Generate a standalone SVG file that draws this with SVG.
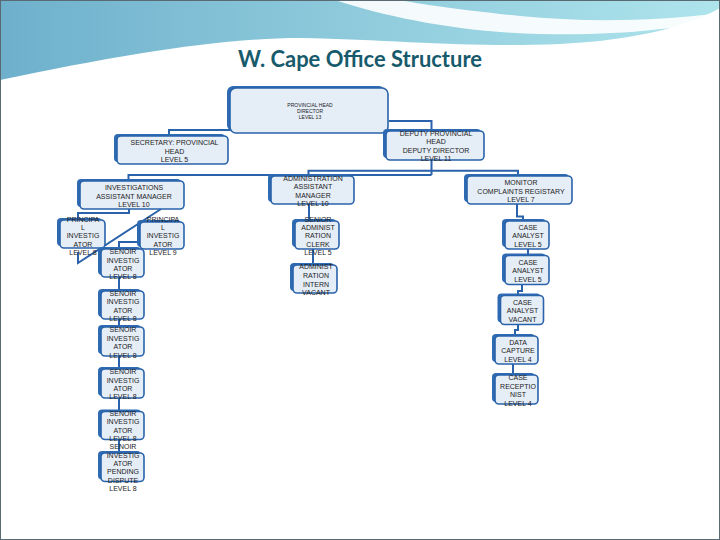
<svg xmlns="http://www.w3.org/2000/svg" width="720" height="540" viewBox="0 0 720 540">
<defs>
<linearGradient id="hdr" x1="0" y1="0" x2="1" y2="0">
<stop offset="0" stop-color="#6eb0cc"/>
<stop offset="0.5" stop-color="#8fcbdc"/>
<stop offset="1" stop-color="#aee4ec"/>
</linearGradient>
<style>
.sh{fill:#2e6bb3}
.bx{fill:#e5edf7;stroke:#2a63ab;stroke-width:1.6}
.t{font-family:"Liberation Sans",Arial,sans-serif;font-size:7px;fill:#1c1c1c;text-anchor:middle}
.ts{font-family:"Liberation Sans",Arial,sans-serif;font-size:5px;fill:#1c1c1c;text-anchor:middle}
.c{fill:none;stroke:#2a63ab;stroke-width:2}
</style>
</defs>
<rect x="0" y="0" width="720" height="540" fill="#ffffff"/>
<g id="header">
<path d="M0,0 H720 V8 C690,25 640,40 560,44 C470,48 400,40 300,38 C220,38 120,55 0,80 Z" fill="url(#hdr)"/>
<path d="M335,0 C390,18 460,32 540,34 C620,36 680,28 720,20 L720,13 C650,22 580,22 520,16 C460,10 420,4 400,0 Z" fill="#ffffff" opacity="0.9"/>
<path d="M0,95 C80,70 180,50 300,45" fill="none" stroke="#ffffff" stroke-width="1.5" opacity="0.7"/>
</g>
<rect x="0.5" y="0.5" width="719" height="539" fill="none" stroke="#5a6a72" stroke-width="1"/>
<text x="360" y="66.5" textLength="244" lengthAdjust="spacingAndGlyphs" style="font-family:Lato,'Open Sans',sans-serif;font-weight:bold;font-size:22px;fill:#175a6c;text-anchor:middle">W. Cape Office Structure</text>
<g id="connectors">
<polyline class="c" points="389,121 431.5,121 431.5,131"/>
<polyline class="c" points="230,130 169,130 169,136"/>
<polyline class="c" points="431.5,160 431.5,175"/>
<polyline class="c" points="128.5,181 128.5,175 431.5,175"/>
<polyline class="c" points="308.5,176 308.5,170.7 518,170.7 518,176"/>
<polyline class="c" points="129,209 129,213 78,213 78,220"/>
<polyline class="c" points="161,209 78,263 78,252"/>
<polyline class="c" points="141,242 119,242 119,249"/>
<line class="c" x1="119" y1="277" x2="119" y2="291"/>
<line class="c" x1="119" y1="319" x2="119" y2="327"/>
<line class="c" x1="119" y1="356" x2="119" y2="369"/>
<line class="c" x1="119" y1="398" x2="119" y2="411.5"/>
<line class="c" x1="119" y1="439.5" x2="119" y2="453"/>
<line class="c" x1="309" y1="204" x2="309" y2="221"/>
<line class="c" x1="313" y1="249" x2="313" y2="265"/>
<polyline class="c" points="517,204 517,216.5 523,216.5 523,221"/>
<line class="c" x1="528" y1="248.6" x2="528" y2="255.5"/>
<polyline class="c" points="522,284.5 522,291 518,291 518,295.5"/>
<polyline class="c" points="518,324.5 518,330 515,330 515,336"/>
<line class="c" x1="513" y1="364" x2="513" y2="375"/>
</g>
<g id="provincial-head">
<rect class="sh" x="227" y="86" width="158" height="45" rx="6"/>
<rect class="bx" x="230" y="88" width="158" height="45" rx="6"/>
<text class="ts" x="310" y="106.5">PROVINCIAL HEAD</text>
<text class="ts" x="310" y="112.5">DIRECTOR</text>
<text class="ts" x="310" y="118.5">LEVEL 13</text>
</g>
<g id="secretary">
<rect class="sh" x="114" y="134" width="111" height="28" rx="4"/>
<rect class="bx" x="117" y="136" width="111" height="28" rx="4"/>
<text class="t" x="174.5" y="144.5">SECRETARY:  PROVINCIAL</text>
<text class="t" x="174.5" y="154">HEAD</text>
<text class="t" x="174.5" y="161.5">LEVEL 5</text>
</g>
<g id="deputy">
<rect class="sh" x="383" y="129" width="98" height="29" rx="4"/>
<rect class="bx" x="386" y="131" width="98" height="29" rx="4"/>
<text class="t" x="436" y="135.5">DEPUTY PROVINCIAL</text>
<text class="t" x="436" y="143.5">HEAD</text>
<text class="t" x="436" y="152.5">DEPUTY DIRECTOR</text>
<text class="t" x="436" y="161">LEVEL 11</text>
</g>
<g id="investigations">
<rect class="sh" x="77" y="179" width="104" height="28" rx="4"/>
<rect class="bx" x="80" y="181" width="104" height="28" rx="4"/>
<text class="t" x="134" y="190">INVESTIGATIONS</text>
<text class="t" x="134" y="199">ASSISTANT MANAGER</text>
<text class="t" x="134" y="206.7">LEVEL 10</text>
</g>
<g id="administration">
<rect class="sh" x="268" y="174" width="83" height="28" rx="4"/>
<rect class="bx" x="271" y="176" width="83" height="28" rx="4"/>
<text class="t" x="313" y="181">ADMINISTRATION</text>
<text class="t" x="313" y="189">ASSISTANT</text>
<text class="t" x="313" y="197.7">MANAGER</text>
<text class="t" x="313" y="206">LEVEL 10</text>
</g>
<g id="monitor">
<rect class="sh" x="464" y="174" width="105" height="28" rx="4"/>
<rect class="bx" x="467" y="176" width="105" height="28" rx="4"/>
<text class="t" x="521" y="185">MONITOR</text>
<text class="t" x="521" y="193.5">COMPLAINTS REGISTARY</text>
<text class="t" x="521" y="202">LEVEL 7</text>
</g>
<g id="principal-left">
<rect class="sh" x="57" y="218" width="45" height="28" rx="4"/>
<rect class="bx" x="60" y="220" width="45" height="28" rx="4"/>
<text class="t" x="83" y="221.5">PRINCIPA</text>
<text class="t" x="83" y="230">L</text>
<text class="t" x="83" y="238">INVESTIG</text>
<text class="t" x="83" y="246.5">ATOR</text>
<text class="t" x="83" y="255">LEVEL 8</text>
</g>
<g id="principal-right">
<rect class="sh" x="137" y="220" width="44" height="27" rx="4"/>
<rect class="bx" x="140" y="222" width="44" height="27" rx="4"/>
<text class="t" x="163" y="221.5">PRINCIPA</text>
<text class="t" x="163" y="230">L</text>
<text class="t" x="163" y="238">INVESTIG</text>
<text class="t" x="163" y="246.5">ATOR</text>
<text class="t" x="163" y="255">LEVEL 9</text>
</g>
<g id="senior-inv-1">
<rect class="sh" x="98" y="247" width="43" height="28" rx="4"/>
<rect class="bx" x="101" y="249" width="43" height="28" rx="4"/>
<text class="t" x="123" y="254">SENOIR</text>
<text class="t" x="123" y="263">INVESTIG</text>
<text class="t" x="123" y="271">ATOR</text>
<text class="t" x="123" y="279">LEVEL 8</text>
</g>
<g id="senior-inv-2">
<rect class="sh" x="98" y="289" width="43" height="28" rx="4"/>
<rect class="bx" x="101" y="291" width="43" height="28" rx="4"/>
<text class="t" x="123" y="296">SENOIR</text>
<text class="t" x="123" y="304">INVESTIG</text>
<text class="t" x="123" y="313">ATOR</text>
<text class="t" x="123" y="321">LEVEL 8</text>
</g>
<g id="senior-inv-3">
<rect class="sh" x="98" y="325" width="43" height="29" rx="4"/>
<rect class="bx" x="101" y="327" width="43" height="29" rx="4"/>
<text class="t" x="123" y="332">SENOIR</text>
<text class="t" x="123" y="340.7">INVESTIG</text>
<text class="t" x="123" y="349">ATOR</text>
<text class="t" x="123" y="358">LEVEL 8</text>
</g>
<g id="senior-inv-4">
<rect class="sh" x="98" y="367" width="43" height="29" rx="4"/>
<rect class="bx" x="101" y="369" width="43" height="29" rx="4"/>
<text class="t" x="123" y="373.7">SENOIR</text>
<text class="t" x="123" y="382.7">INVESTIG</text>
<text class="t" x="123" y="391">ATOR</text>
<text class="t" x="123" y="399">LEVEL 8</text>
</g>
<g id="senior-inv-5">
<rect class="sh" x="98" y="409.5" width="43" height="28" rx="4"/>
<rect class="bx" x="101" y="411.5" width="43" height="28" rx="4"/>
<text class="t" x="123" y="415.7">SENOIR</text>
<text class="t" x="123" y="424">INVESTIG</text>
<text class="t" x="123" y="433">ATOR</text>
<text class="t" x="123" y="441">LEVEL 8</text>
</g>
<g id="senior-inv-6">
<rect class="sh" x="98" y="451" width="43" height="28.5" rx="4"/>
<rect class="bx" x="101" y="453" width="43" height="28.5" rx="4"/>
<text class="t" x="123" y="449">SENOIR</text>
<text class="t" x="123" y="457.7">INVESTIG</text>
<text class="t" x="123" y="465.7">ATOR</text>
<text class="t" x="123" y="473.5">PENDING</text>
<text class="t" x="123" y="482.5">DISPUTE</text>
<text class="t" x="123" y="490.8">LEVEL 8</text>
</g>
<g id="senior-admin-clerk">
<rect class="sh" x="292" y="219" width="44" height="28" rx="4"/>
<rect class="bx" x="295" y="221" width="44" height="28" rx="4"/>
<text class="t" x="318" y="221.5">SENIOR</text>
<text class="t" x="318" y="230">ADMINIST</text>
<text class="t" x="318" y="238">RATION</text>
<text class="t" x="318" y="246.6">CLERK</text>
<text class="t" x="318" y="255">LEVEL 5</text>
</g>
<g id="admin-intern">
<rect class="sh" x="290" y="263" width="44" height="28" rx="4"/>
<rect class="bx" x="293" y="265" width="44" height="28" rx="4"/>
<text class="t" x="316" y="269.4">ADMINIST</text>
<text class="t" x="316" y="278">RATION</text>
<text class="t" x="316" y="287">INTERN</text>
<text class="t" x="316" y="295">VACANT</text>
</g>
<g id="case-analyst-1">
<rect class="sh" x="502" y="219" width="44" height="28" rx="4"/>
<rect class="bx" x="505" y="221" width="44" height="28" rx="4"/>
<text class="t" x="528" y="230">CASE</text>
<text class="t" x="528" y="238">ANALYST</text>
<text class="t" x="528" y="246.6">LEVEL 5</text>
</g>
<g id="case-analyst-2">
<rect class="sh" x="502" y="253.5" width="44" height="29" rx="4"/>
<rect class="bx" x="505" y="255.5" width="44" height="29" rx="4"/>
<text class="t" x="528" y="265">CASE</text>
<text class="t" x="528" y="273">ANALYST</text>
<text class="t" x="528" y="282">LEVEL 5</text>
</g>
<g id="case-analyst-vacant">
<rect class="sh" x="497.5" y="293.5" width="43" height="29" rx="4"/>
<rect class="bx" x="500.5" y="295.5" width="43" height="29" rx="4"/>
<text class="t" x="522.5" y="305">CASE</text>
<text class="t" x="522.5" y="313">ANALYST</text>
<text class="t" x="522.5" y="321.7">VACANT</text>
</g>
<g id="data-capture">
<rect class="sh" x="492" y="334" width="43" height="28" rx="4"/>
<rect class="bx" x="495" y="336" width="43" height="28" rx="4"/>
<text class="t" x="518" y="345">DATA</text>
<text class="t" x="518" y="353">CAPTURE</text>
<text class="t" x="518" y="361.7">LEVEL 4</text>
</g>
<g id="case-receptionist">
<rect class="sh" x="492" y="373" width="43" height="29" rx="4"/>
<rect class="bx" x="495" y="375" width="43" height="29" rx="4"/>
<text class="t" x="518" y="379.5">CASE</text>
<text class="t" x="518" y="389">RECEPTIO</text>
<text class="t" x="518" y="397">NIST</text>
<text class="t" x="518" y="406">LEVEL 4</text>
</g>
</svg>
